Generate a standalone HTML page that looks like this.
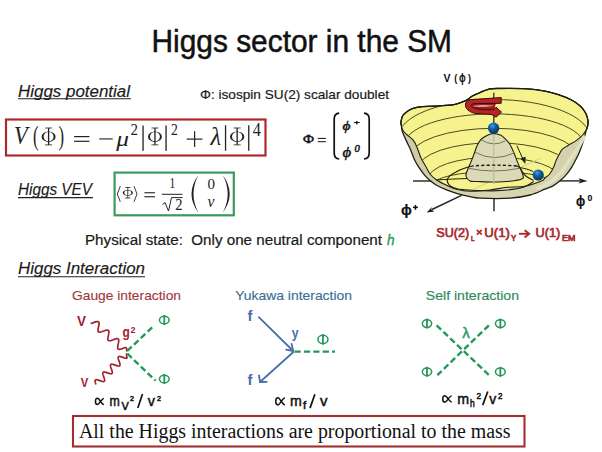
<!DOCTYPE html>
<html><head><meta charset="utf-8">
<style>
html,body{margin:0;padding:0;background:#fff;width:602px;height:452px;overflow:hidden}
svg{display:block}
</style></head><body>
<svg width="602" height="452" viewBox="0 0 602 452">
<rect width="602" height="452" fill="#fff"/>
<text x="151.5" y="52.3" font-family="Liberation Sans" font-size="31" fill="#111" stroke="#111" stroke-width="0.5" textLength="300.5" lengthAdjust="spacingAndGlyphs">Higgs sector in the SM</text>
<g font-family="Liberation Sans" font-style="italic" fill="#1a1a1a" stroke="#1a1a1a" stroke-width="0.15" font-size="16"><text x="18" y="96.5" textLength="112" lengthAdjust="spacingAndGlyphs">Higgs potential</text><text x="18" y="194.6" textLength="74" lengthAdjust="spacingAndGlyphs">Higgs VEV</text><text x="18" y="274.2" textLength="127" lengthAdjust="spacingAndGlyphs">Higgs Interaction</text></g>
<g stroke="#222" stroke-width="1.1"><line x1="18" y1="98.8" x2="131" y2="98.8"/><line x1="18" y1="197.6" x2="93" y2="197.6"/><line x1="18" y1="276.8" x2="145" y2="276.8"/></g>
<text x="200" y="99.2" font-family="Liberation Sans" font-size="13" fill="#1a1a1a" stroke="#1a1a1a" stroke-width="0.2" textLength="189" lengthAdjust="spacingAndGlyphs">Φ: isospin SU(2) scalar doublet</text>
<rect x="6" y="119.5" width="259.5" height="36" fill="none" stroke="#b0282a" stroke-width="2.2"/>
<text transform="translate(14.00 144.02) scale(0.888 1)" font-family="Liberation Serif" font-size="25.22" font-style="italic" fill="#222">V</text>
<text transform="translate(33.00 145.32) scale(0.611 1)" font-family="Liberation Serif" font-size="27.36" fill="#222">(</text>
<text transform="translate(58.60 145.32) scale(0.611 1)" font-family="Liberation Serif" font-size="27.36" fill="#222">)</text>
<text transform="translate(116.33 145.54) scale(1.222 1)" font-family="Liberation Serif" font-size="20.74" font-style="italic" fill="#222">μ</text>
<text transform="translate(130.50 135.00) scale(0.943 1)" font-family="Liberation Serif" font-size="15.91" fill="#222">2</text>
<text transform="translate(170.90 135.00) scale(0.867 1)" font-family="Liberation Serif" font-size="15.91" fill="#222">2</text>
<text x="210.51" y="145.40" font-family="Liberation Serif" font-size="24.40" font-style="italic" fill="#222">λ</text>
<text transform="translate(252.80 135.70) scale(0.910 1)" font-family="Liberation Serif" font-size="18.03" fill="#222">4</text>
<path fill="#222" fill-rule="evenodd" d="M41.60,136.65 A7.00,5.25 0 1 0 55.60,136.65 A7.00,5.25 0 1 0 41.60,136.65 Z M43.60,136.65 A5.00,4.70 0 1 0 53.60,136.65 A5.00,4.70 0 1 0 43.60,136.65 Z"/><rect x="47.94" y="127.90" width="1.33" height="17.10" fill="#222"/><rect x="45.10" y="127.60" width="7.00" height="0.8" fill="#222"/><rect x="45.10" y="144.50" width="7.00" height="0.8" fill="#222"/>
<path fill="#222" fill-rule="evenodd" d="M148.00,136.65 A6.95,5.25 0 1 0 161.90,136.65 A6.95,5.25 0 1 0 148.00,136.65 Z M150.00,136.65 A4.95,4.70 0 1 0 159.90,136.65 A4.95,4.70 0 1 0 150.00,136.65 Z"/><rect x="154.29" y="127.90" width="1.33" height="17.10" fill="#222"/><rect x="151.47" y="127.60" width="6.95" height="0.8" fill="#222"/><rect x="151.47" y="144.50" width="6.95" height="0.8" fill="#222"/>
<path fill="#222" fill-rule="evenodd" d="M230.00,136.65 A7.15,5.25 0 1 0 244.30,136.65 A7.15,5.25 0 1 0 230.00,136.65 Z M232.00,136.65 A5.15,4.70 0 1 0 242.30,136.65 A5.15,4.70 0 1 0 232.00,136.65 Z"/><rect x="236.49" y="127.90" width="1.33" height="17.10" fill="#222"/><rect x="233.57" y="127.60" width="7.15" height="0.8" fill="#222"/><rect x="233.57" y="144.50" width="7.15" height="0.8" fill="#222"/>
<path fill="#222" fill-rule="evenodd" d="M122.70,192.85 A5.10,2.85 0 1 0 132.90,192.85 A5.10,2.85 0 1 0 122.70,192.85 Z M124.30,192.85 A3.50,2.30 0 1 0 131.30,192.85 A3.50,2.30 0 1 0 124.30,192.85 Z"/><rect x="127.37" y="187.30" width="0.86" height="10.80" fill="#222"/><rect x="125.25" y="187.00" width="5.10" height="0.8" fill="#222"/><rect x="125.25" y="197.60" width="5.10" height="0.8" fill="#222"/>
<g fill="#222"><rect x="74.1" y="136" width="15.3" height="1.2"/><rect x="74.1" y="140.7" width="15.3" height="1.2"/><rect x="99.3" y="138.4" width="13.4" height="1.1"/><rect x="142.4" y="125.5" width="1.3" height="25.4"/><rect x="165.4" y="125.5" width="1.3" height="25.4"/><rect x="186.7" y="138.5" width="15.7" height="1.2"/><rect x="194" y="131.2" width="1.2" height="15.7"/><rect x="224.9" y="125.3" width="1.3" height="25.4"/><rect x="248.1" y="125.3" width="1.3" height="25.4"/></g>
<rect x="114.6" y="172.6" width="119.2" height="42.7" fill="none" stroke="#3a9a5c" stroke-width="2.2"/>
<text transform="translate(169.60 187.80) scale(0.760 1)" font-family="Liberation Serif" font-size="15.00" fill="#222">1</text>
<text transform="translate(175.30 210.40) scale(0.868 1)" font-family="Liberation Serif" font-size="16.82" fill="#222">2</text>
<text transform="translate(207.40 189.25) scale(1.023 1)" font-family="Liberation Serif" font-size="14.67" fill="#222">0</text>
<text transform="translate(207.40 207.24) scale(0.986 1)" font-family="Liberation Serif" font-size="15.96" font-style="italic" fill="#222">v</text>
<g fill="none" stroke="#222" stroke-width="0.9"><polyline points="120.3,186.2 117.3,194 120.3,201.8"/><polyline points="134,186.2 137,194 134,201.8"/><polyline points="162.5,204.5 165,202.5 168.5,211 171.5,197.6 182.6,197.6" stroke-width="1"/></g>
<g fill="#222"><rect x="144.4" y="192.2" width="10.6" height="1.1"/><rect x="144.4" y="196.2" width="10.6" height="1.1"/><rect x="161.8" y="193.8" width="20.6" height="1"/></g>
<g fill="none" stroke="#222" stroke-width="1.3"></g>
<g fill="#222"><path d="M198.4,175 Q184.6,193.9 198.4,212.8 Q188.6,193.9 198.4,175 Z"/><path d="M222.8,175 Q236.6,193.9 222.8,212.8 Q232.6,193.9 222.8,175 Z"/></g>
<text transform="translate(303.00 143.20) scale(1.148 1)" font-family="Liberation Serif" font-size="13.13" stroke="#111" stroke-width="0.45" fill="#111">Φ</text>
<text transform="translate(342.50 129.76) scale(1.167 1)" font-family="Liberation Serif" font-size="13.19" font-style="italic" stroke="#111" stroke-width="0.45" fill="#111">ϕ</text>
<text transform="translate(353.80 124.60) scale(1.500 1)" font-family="Liberation Serif" font-size="7.08" stroke="#111" stroke-width="0.45" fill="#111">+</text>
<text transform="translate(342.50 157.19) scale(1.087 1)" font-family="Liberation Serif" font-size="15.38" font-style="italic" stroke="#111" stroke-width="0.45" fill="#111">ϕ</text>
<text transform="translate(354.50 152.40) scale(1.084 1)" font-family="Liberation Serif" font-size="9.78" font-style="italic" stroke="#111" stroke-width="0.45" fill="#111">0</text>
<g fill="#111"><rect x="317.7" y="137.9" width="8.2" height="1"/><rect x="317.7" y="141.2" width="8.2" height="1"/></g>
<g fill="none" stroke="#111" stroke-width="1.7"><path d="M339.2,113.2 Q334.2,113.6 334.2,119 L334.2,153 Q334.2,158.6 339.2,159"/><path d="M364,113.2 Q369.2,113.6 369.2,119 L369.2,153 Q369.2,158.6 364,159"/></g>
<text x="85" y="245" font-family="Liberation Sans" font-size="14" fill="#1a1a1a" stroke="#1a1a1a" stroke-width="0.2" textLength="297" lengthAdjust="spacingAndGlyphs" xml:space="preserve">Physical state:  Only one neutral component</text>
<text transform="translate(387.00 245.00) scale(0.933 1)" font-family="Liberation Sans" font-size="14.48" font-style="italic" stroke="#2a9a5a" stroke-width="0.4" fill="#2a9a5a">h</text>
<text x="72" y="300.3" font-family="Liberation Sans" font-size="13.5" fill="#a03a40" stroke="#a03a40" stroke-width="0.15" textLength="109" lengthAdjust="spacingAndGlyphs">Gauge interaction</text>
<text x="235.3" y="300" font-family="Liberation Sans" font-size="13.5" fill="#3c6e98" stroke="#3c6e98" stroke-width="0.15" textLength="116.7" lengthAdjust="spacingAndGlyphs">Yukawa interaction</text>
<text x="425.8" y="300.2" font-family="Liberation Sans" font-size="13.5" fill="#2e8a5c" stroke="#2e8a5c" stroke-width="0.15" textLength="93.2" lengthAdjust="spacingAndGlyphs">Self interaction</text>
<rect x="73" y="416" width="451.5" height="30.5" fill="none" stroke="#a03030" stroke-width="2.1"/>
<text x="79" y="438.3" font-family="Liberation Serif" font-size="20" fill="#111" textLength="431.5" lengthAdjust="spacingAndGlyphs">All the Higgs interactions are proportional to the mass</text>
<path d="M90.63,323.53 L91.27,323.37 L91.96,323.16 L92.68,322.92 L93.42,322.65 L94.16,322.38 L94.89,322.12 L95.60,321.88 L96.27,321.70 L96.88,321.57 L97.43,321.52 L97.91,321.55 L98.31,321.67 L98.62,321.89 L98.86,322.20 L99.01,322.60 L99.08,323.10 L99.09,323.67 L99.03,324.32 L98.92,325.02 L98.78,325.76 L98.62,326.53 L98.45,327.30 L98.28,328.06 L98.15,328.80 L98.05,329.49 L98.00,330.13 L98.01,330.69 L98.09,331.17 L98.26,331.57 L98.50,331.86 L98.83,332.07 L99.24,332.17 L99.73,332.19 L100.29,332.13 L100.91,331.99 L101.59,331.80 L102.30,331.56 L103.03,331.30 L103.78,331.03 L104.51,330.76 L105.23,330.52 L105.91,330.32 L106.54,330.17 L107.11,330.10 L107.61,330.10 L108.03,330.20 L108.37,330.39 L108.63,330.67 L108.80,331.05 L108.90,331.52 L108.92,332.07 L108.88,332.70 L108.79,333.38 L108.65,334.12 L108.49,334.88 L108.32,335.65 L108.16,336.42 L108.01,337.16 L107.90,337.87 L107.83,338.53 L107.83,339.11 L107.89,339.62 L108.03,340.03 L108.25,340.36 L108.56,340.59 L108.94,340.72 L109.41,340.77 L109.95,340.73 L110.56,340.61 L111.22,340.43 L111.92,340.21 L112.65,339.95 L113.39,339.68 L114.13,339.40 L114.86,339.15 L115.55,338.94 L116.19,338.78 L116.78,338.68 L117.30,338.67 L117.75,338.73 L118.11,338.89 L118.39,339.15 L118.59,339.50 L118.71,339.95 L118.75,340.48 L118.72,341.08 L118.64,341.75 L118.52,342.47 L118.37,343.23 L118.20,344.00 L118.03,344.77 L117.88,345.53 L117.76,346.25 L117.68,346.92 L117.65,347.52 L117.69,348.05 L117.81,348.50 L118.01,348.85 L118.29,349.11 L118.65,349.27 L119.10,349.33 L119.62,349.32 L120.21,349.22 L120.85,349.06 L121.54,348.85 L122.27,348.60 L123.01,348.32 L123.75,348.05 L124.48,347.79 L125.18,347.57 L125.74,347.51 L126.12,347.65 L126.39,347.91 L126.56,348.30 L126.66,348.77 L126.69,349.31 L126.70,349.88 L126.70,350.45 L126.73,351.00 L126.80,351.50" fill="none" stroke="#a02430" stroke-width="1.7"/>
<path d="M96.00,384.50 L95.73,383.71 L95.47,382.95 L95.27,382.23 L95.13,381.58 L95.07,381.01 L95.11,380.54 L95.26,380.17 L95.51,379.91 L95.88,379.76 L96.36,379.72 L96.93,379.77 L97.58,379.91 L98.30,380.11 L99.06,380.36 L99.85,380.62 L100.64,380.89 L101.40,381.14 L102.12,381.34 L102.77,381.48 L103.34,381.53 L103.82,381.49 L104.19,381.34 L104.44,381.08 L104.59,380.71 L104.63,380.24 L104.57,379.67 L104.43,379.02 L104.23,378.30 L103.97,377.54 L103.70,376.75 L103.43,375.96 L103.17,375.20 L102.97,374.48 L102.83,373.83 L102.77,373.26 L102.81,372.79 L102.96,372.42 L103.21,372.16 L103.58,372.01 L104.06,371.97 L104.63,372.02 L105.28,372.16 L106.00,372.36 L106.76,372.61 L107.55,372.88 L108.34,373.14 L109.10,373.39 L109.82,373.59 L110.47,373.73 L111.04,373.78 L111.52,373.74 L111.89,373.59 L112.14,373.33 L112.29,372.96 L112.33,372.49 L112.27,371.92 L112.13,371.27 L111.93,370.55 L111.67,369.79 L111.40,369.00 L111.13,368.21 L110.87,367.45 L110.67,366.73 L110.53,366.08 L110.47,365.51 L110.51,365.04 L110.66,364.67 L110.91,364.41 L111.28,364.26 L111.76,364.22 L112.33,364.27 L112.98,364.41 L113.70,364.61 L114.46,364.86 L115.25,365.12 L116.04,365.39 L116.80,365.64 L117.52,365.84 L118.17,365.98 L118.74,366.03 L119.22,365.99 L119.59,365.84 L119.84,365.58 L119.99,365.21 L120.03,364.74 L119.97,364.17 L119.83,363.52 L119.63,362.80 L119.37,362.04 L119.10,361.25 L118.83,360.46 L118.57,359.70 L118.37,358.98 L118.23,358.33 L118.17,357.76 L118.21,357.29 L118.36,356.92 L118.61,356.66 L118.98,356.51 L119.46,356.47 L120.03,356.52 L120.68,356.66 L121.40,356.86 L122.16,357.11 L122.95,357.38 L123.74,357.64 L124.50,357.89 L125.22,358.09 L125.87,358.23 L126.44,358.28 L126.77,358.09 L126.86,357.67 L126.86,357.15 L126.78,356.56 L126.67,355.94 L126.56,355.32 L126.50,354.74 L126.50,354.23 L126.60,353.81 L126.80,353.50" fill="none" stroke="#a02430" stroke-width="1.7"/>
<g stroke="#22985a" stroke-width="2.4" stroke-dasharray="6.2 3.2" fill="none"><line x1="127.2" y1="351" x2="154" y2="325.6"/><line x1="127.3" y1="353.5" x2="155.6" y2="380.7"/></g>
<text transform="translate(77.00 326.20) scale(0.934 1)" font-family="Liberation Sans" font-size="14.49" font-weight="bold" fill="#a02430">V</text>
<text transform="translate(80.80 386.50) scale(0.855 1)" font-family="Liberation Sans" font-size="13.19" font-weight="bold" fill="#a02430">V</text>
<text transform="translate(122.60 337.42) scale(0.871 1)" font-family="Liberation Sans" font-size="13.73" font-weight="bold" fill="#a02430">g</text>
<text transform="translate(130.60 332.60) scale(0.956 1)" font-family="Liberation Sans" font-size="9.43" font-weight="bold" fill="#a02430">2</text>
<g stroke="#4a6eaa" stroke-width="1.8" fill="none" stroke-linecap="round" stroke-linejoin="round"><line x1="258.8" y1="317.2" x2="293.2" y2="351"/><polyline points="286.2,349.6 293.2,351 291.6,344"/><line x1="293.4" y1="352" x2="260" y2="382"/><polyline points="259,375.5 260,382 266.8,381.8"/></g>
<line x1="294.5" y1="351.6" x2="335" y2="351.6" stroke="#22985a" stroke-width="2.4" stroke-dasharray="6.2 3.2"/>
<text transform="translate(247.50 321.00) scale(1.040 1)" font-family="Liberation Sans" font-size="14.34" font-weight="bold" fill="#4a6eaa">f</text>
<text transform="translate(247.50 384.90) scale(1.040 1)" font-family="Liberation Sans" font-size="14.34" font-weight="bold" fill="#4a6eaa">f</text>
<text transform="translate(291.70 337.61) scale(0.832 1)" font-family="Liberation Sans" font-size="14.73" font-weight="bold" fill="#4a6eaa">y</text>
<g stroke="#22985a" stroke-width="2.4" stroke-dasharray="6.2 3.2" fill="none"><line x1="436.6" y1="325.3" x2="488.9" y2="375.1"/><line x1="488.9" y1="325.3" x2="437.4" y2="375.1"/></g>
<text transform="translate(462.30 337.70) scale(0.980 1)" font-family="Liberation Sans" font-size="15.31" stroke="#22985a" stroke-width="0.4" fill="#22985a">λ</text>
<ellipse cx="164.30" cy="320.00" rx="4.85" ry="3.85" fill="none" stroke="#22985a" stroke-width="1.5"/><line x1="164.30" y1="315.00" x2="164.30" y2="325.00" stroke="#22985a" stroke-width="1.8"/>
<ellipse cx="164.30" cy="379.00" rx="4.85" ry="3.85" fill="none" stroke="#22985a" stroke-width="1.5"/><line x1="164.30" y1="374.00" x2="164.30" y2="384.00" stroke="#22985a" stroke-width="1.8"/>
<ellipse cx="322.95" cy="339.45" rx="5.00" ry="4.10" fill="none" stroke="#22985a" stroke-width="1.5"/><line x1="322.95" y1="334.20" x2="322.95" y2="344.70" stroke="#22985a" stroke-width="1.8"/>
<ellipse cx="427.00" cy="323.60" rx="4.65" ry="3.85" fill="none" stroke="#22985a" stroke-width="1.5"/><line x1="427.00" y1="318.60" x2="427.00" y2="328.60" stroke="#22985a" stroke-width="1.8"/>
<ellipse cx="500.35" cy="323.60" rx="4.90" ry="3.85" fill="none" stroke="#22985a" stroke-width="1.5"/><line x1="500.35" y1="318.60" x2="500.35" y2="328.60" stroke="#22985a" stroke-width="1.8"/>
<ellipse cx="427.00" cy="371.80" rx="4.65" ry="3.85" fill="none" stroke="#22985a" stroke-width="1.5"/><line x1="427.00" y1="366.80" x2="427.00" y2="376.80" stroke="#22985a" stroke-width="1.8"/>
<ellipse cx="500.35" cy="371.80" rx="4.90" ry="3.85" fill="none" stroke="#22985a" stroke-width="1.5"/><line x1="500.35" y1="366.80" x2="500.35" y2="376.80" stroke="#22985a" stroke-width="1.8"/>
<path d="M103.85,398.47 C102.59,398.35 101.50,400.21 100.49,401.45 C99.48,402.81 98.64,404.55 97.47,404.55 C96.12,404.55 95.45,403.19 95.45,401.45 C95.45,399.71 96.12,398.35 97.47,398.35 C98.64,398.35 99.48,400.09 100.49,401.45 C101.50,402.69 102.59,404.55 103.85,404.43" fill="none" stroke="#111" stroke-width="1.5"/>
<path d="M284.95,397.89 C283.57,397.75 282.37,399.91 281.27,401.35 C280.17,402.93 279.25,404.95 277.96,404.95 C276.49,404.95 275.75,403.37 275.75,401.35 C275.75,399.33 276.49,397.75 277.96,397.75 C279.25,397.75 280.17,399.77 281.27,401.35 C282.37,402.79 283.57,404.95 284.95,404.81" fill="none" stroke="#111" stroke-width="1.5"/>
<path d="M451.75,395.88 C450.40,395.75 449.23,397.64 448.15,398.90 C447.07,400.29 446.17,402.05 444.91,402.05 C443.47,402.05 442.75,400.66 442.75,398.90 C442.75,397.14 443.47,395.75 444.91,395.75 C446.17,395.75 447.07,397.51 448.15,398.90 C449.23,400.16 450.40,402.05 451.75,401.92" fill="none" stroke="#111" stroke-width="1.5"/>
<text transform="translate(109.60 405.60) scale(0.876 1)" font-family="Liberation Sans" font-size="14.07" stroke="#111" stroke-width="0.5" fill="#111">m</text>
<text transform="translate(121.60 409.60) scale(1.082 1)" font-family="Liberation Sans" font-size="10.14" stroke="#111" stroke-width="0.5" fill="#111">V</text>
<text transform="translate(130.00 400.60) scale(0.901 1)" font-family="Liberation Sans" font-size="8.00" stroke="#111" stroke-width="0.5" fill="#111">2</text>
<text x="147.80" y="405.60" font-family="Liberation Sans" font-size="14.34" stroke="#111" stroke-width="0.5" fill="#111">v</text>
<text transform="translate(156.90 400.60) scale(0.901 1)" font-family="Liberation Sans" font-size="8.00" stroke="#111" stroke-width="0.5" fill="#111">2</text>
<text transform="translate(289.90 405.70) scale(0.931 1)" font-family="Liberation Sans" font-size="15.19" stroke="#111" stroke-width="0.5" fill="#111">m</text>
<text transform="translate(303.00 409.40) scale(1.076 1)" font-family="Liberation Sans" font-size="10.62" stroke="#111" stroke-width="0.5" fill="#111">f</text>
<text transform="translate(319.90 405.70) scale(1.032 1)" font-family="Liberation Sans" font-size="14.53" stroke="#111" stroke-width="0.5" fill="#111">v</text>
<text transform="translate(457.20 403.70) scale(0.950 1)" font-family="Liberation Sans" font-size="15.00" stroke="#111" stroke-width="0.5" fill="#111">m</text>
<text transform="translate(470.00 407.20) scale(0.841 1)" font-family="Liberation Sans" font-size="10.07" stroke="#111" stroke-width="0.5" fill="#111">h</text>
<text transform="translate(476.40 398.50) scale(0.893 1)" font-family="Liberation Sans" font-size="9.29" stroke="#111" stroke-width="0.5" fill="#111">2</text>
<text transform="translate(489.20 403.70) scale(0.916 1)" font-family="Liberation Sans" font-size="15.28" stroke="#111" stroke-width="0.5" fill="#111">v</text>
<text transform="translate(497.90 398.50) scale(0.957 1)" font-family="Liberation Sans" font-size="8.29" stroke="#111" stroke-width="0.5" fill="#111">2</text>
<line x1="137.80" y1="408.00" x2="142.50" y2="394.00" stroke="#111" stroke-width="1.7"/>
<line x1="310.00" y1="408.10" x2="314.90" y2="394.30" stroke="#111" stroke-width="1.7"/>
<line x1="482.70" y1="405.10" x2="487.80" y2="391.50" stroke="#111" stroke-width="1.7"/>
<defs><clipPath id="yc"><path d="M401.30,125.00 C400.92,123.48 400.78,123.40 401.00,121.90 C401.22,120.40 401.67,117.65 402.60,116.00 C403.53,114.35 404.93,113.23 406.60,112.00 C408.27,110.77 409.93,109.50 412.60,108.60 C415.27,107.70 418.87,107.00 422.60,106.60 C426.33,106.20 429.98,106.48 435.00,106.20 C440.02,105.92 448.28,105.55 452.70,104.90 C457.12,104.25 459.13,103.12 461.50,102.30 C463.87,101.48 465.15,101.00 466.90,100.00 C468.65,99.00 470.15,97.38 472.00,96.30 C473.85,95.22 475.17,94.68 478.00,93.50 C480.83,92.32 485.27,90.03 489.00,89.20 C492.73,88.37 494.23,88.57 500.40,88.50 C506.57,88.43 518.57,88.35 526.00,88.80 C533.43,89.25 539.62,90.22 545.00,91.20 C550.38,92.18 553.88,93.23 558.30,94.70 C562.72,96.17 567.82,98.08 571.50,100.00 C575.18,101.92 578.03,103.98 580.40,106.20 C582.77,108.42 584.45,110.93 585.70,113.30 C586.95,115.67 587.58,118.28 587.90,120.40 C588.22,122.52 587.87,124.45 587.60,126.00 C587.33,127.55 587.12,128.20 586.30,129.70 C585.48,131.20 584.33,133.22 582.70,135.00 C581.07,136.78 579.00,138.62 576.50,140.40 C574.00,142.18 570.05,144.23 567.70,145.70 C565.35,147.17 563.73,147.88 562.40,149.20 C561.07,150.52 560.72,151.80 559.70,153.60 C558.68,155.40 557.32,157.72 556.30,160.00 C555.28,162.28 554.70,164.97 553.60,167.30 C552.50,169.63 551.13,172.23 549.70,174.00 C548.27,175.77 546.37,176.73 545.00,177.90 C543.63,179.07 544.85,179.60 541.50,181.00 C538.15,182.40 530.65,185.25 524.90,186.30 C519.15,187.35 512.82,186.68 507.00,187.30 C501.18,187.92 496.17,189.33 490.00,190.00 C483.83,190.67 475.57,191.42 470.00,191.30 C464.43,191.18 460.50,190.30 456.60,189.30 C452.70,188.30 449.93,186.85 446.60,185.30 C443.27,183.75 439.37,181.88 436.60,180.00 C433.83,178.12 431.78,176.23 430.00,174.00 C428.22,171.77 427.35,169.17 425.90,166.60 C424.45,164.03 422.62,161.37 421.30,158.60 C419.98,155.83 418.90,152.28 418.00,150.00 C417.10,147.72 416.68,146.52 415.90,144.90 C415.12,143.28 414.73,141.95 413.30,140.30 C411.87,138.65 408.97,136.55 407.30,135.00 C405.63,133.45 404.30,132.67 403.30,131.00 C402.30,129.33 401.68,126.52 401.30,125.00 Z"/></clipPath><radialGradient id="ball" cx="0.4" cy="0.3" r="0.75"><stop offset="0" stop-color="#4aa0e0"/><stop offset="0.35" stop-color="#1464aa"/><stop offset="1" stop-color="#052a50"/></radialGradient><linearGradient id="shellg" x1="0" y1="0" x2="1" y2="0"><stop offset="0" stop-color="#cdcba2"/><stop offset="0.5" stop-color="#d9d7b3"/><stop offset="1" stop-color="#d2d0a8"/></linearGradient></defs>
<g stroke="#222" stroke-width="1.4" fill="none"><line x1="413" y1="181" x2="431" y2="181"/><line x1="558" y1="180.9" x2="580" y2="180.9"/><line x1="494" y1="197" x2="494" y2="211.3" stroke="#3a3a3a" stroke-width="1.6"/><line x1="461.5" y1="195.4" x2="432" y2="209.5"/></g>
<polygon points="587.5,180.9 578.5,178.3 580.5,180.9 578.5,183.5" fill="#1a1a1a"/>
<polygon points="426.6,212.4 432,206.9 431.2,209.4 434.3,211.6" fill="#1a1a1a"/>
<path d="M401.30,125.00 C401.13,123.60 400.78,123.40 401.00,121.90 C401.22,120.40 401.67,117.65 402.60,116.00 C403.53,114.35 404.93,113.23 406.60,112.00 C408.27,110.77 409.93,109.50 412.60,108.60 C415.27,107.70 418.87,107.00 422.60,106.60 C426.33,106.20 429.98,106.48 435.00,106.20 C440.02,105.92 448.28,105.55 452.70,104.90 C457.12,104.25 459.13,103.12 461.50,102.30 C463.87,101.48 465.15,101.00 466.90,100.00 C468.65,99.00 470.15,97.38 472.00,96.30 C473.85,95.22 475.17,94.68 478.00,93.50 C480.83,92.32 485.27,90.03 489.00,89.20 C492.73,88.37 494.23,88.57 500.40,88.50 C506.57,88.43 518.57,88.35 526.00,88.80 C533.43,89.25 539.62,90.22 545.00,91.20 C550.38,92.18 553.88,93.23 558.30,94.70 C562.72,96.17 567.82,98.08 571.50,100.00 C575.18,101.92 578.03,103.98 580.40,106.20 C582.77,108.42 584.45,110.93 585.70,113.30 C586.95,115.67 587.58,118.28 587.90,120.40 C588.22,122.52 587.87,124.45 587.60,126.00 C587.33,127.55 586.67,128.48 586.30,129.70 C585.93,130.92 586.00,131.08 585.40,133.30 C584.80,135.52 583.73,139.77 582.70,143.00 C581.67,146.23 580.38,149.87 579.20,152.70 C578.02,155.53 576.87,157.57 575.60,160.00 C574.33,162.43 573.15,164.87 571.60,167.30 C570.05,169.73 568.18,172.38 566.30,174.60 C564.42,176.82 562.52,178.72 560.30,180.60 C558.08,182.48 555.55,184.47 553.00,185.90 C550.45,187.33 548.80,187.68 545.00,189.20 C541.20,190.72 536.03,193.50 530.20,195.00 C524.37,196.50 518.37,197.67 510.00,198.20 C501.63,198.73 486.68,198.47 480.00,198.20 C473.32,197.93 473.80,197.42 469.90,196.60 C466.00,195.78 460.48,194.42 456.60,193.30 C452.72,192.18 449.93,191.23 446.60,189.90 C443.27,188.57 439.37,186.85 436.60,185.30 C433.83,183.75 432.00,182.28 430.00,180.60 C428.00,178.92 426.38,177.32 424.60,175.20 C422.82,173.08 420.97,170.43 419.30,167.90 C417.63,165.37 416.03,162.98 414.60,160.00 C413.17,157.02 411.80,152.62 410.70,150.00 C409.60,147.38 409.02,146.47 408.00,144.30 C406.98,142.13 405.60,139.33 404.60,137.00 C403.60,134.67 402.55,132.30 402.00,130.30 C401.45,128.30 401.47,126.40 401.30,125.00 Z" fill="url(#shellg)" stroke="#1e1e14" stroke-width="1.3"/>
<path d="M584.00,137.00 C582.92,139.00 579.92,145.17 577.50,149.00 C575.08,152.83 572.17,156.17 569.50,160.00 C566.83,163.83 564.75,168.25 561.50,172.00 C558.25,175.75 553.92,179.83 550.00,182.50 C546.08,185.17 540.00,187.08 538.00,188.00" fill="none" stroke="#e2e0c4" stroke-width="3.5" stroke-linecap="round"/>
<path d="M401.30,125.00 C400.92,123.48 400.78,123.40 401.00,121.90 C401.22,120.40 401.67,117.65 402.60,116.00 C403.53,114.35 404.93,113.23 406.60,112.00 C408.27,110.77 409.93,109.50 412.60,108.60 C415.27,107.70 418.87,107.00 422.60,106.60 C426.33,106.20 429.98,106.48 435.00,106.20 C440.02,105.92 448.28,105.55 452.70,104.90 C457.12,104.25 459.13,103.12 461.50,102.30 C463.87,101.48 465.15,101.00 466.90,100.00 C468.65,99.00 470.15,97.38 472.00,96.30 C473.85,95.22 475.17,94.68 478.00,93.50 C480.83,92.32 485.27,90.03 489.00,89.20 C492.73,88.37 494.23,88.57 500.40,88.50 C506.57,88.43 518.57,88.35 526.00,88.80 C533.43,89.25 539.62,90.22 545.00,91.20 C550.38,92.18 553.88,93.23 558.30,94.70 C562.72,96.17 567.82,98.08 571.50,100.00 C575.18,101.92 578.03,103.98 580.40,106.20 C582.77,108.42 584.45,110.93 585.70,113.30 C586.95,115.67 587.58,118.28 587.90,120.40 C588.22,122.52 587.87,124.45 587.60,126.00 C587.33,127.55 587.12,128.20 586.30,129.70 C585.48,131.20 584.33,133.22 582.70,135.00 C581.07,136.78 579.00,138.62 576.50,140.40 C574.00,142.18 570.05,144.23 567.70,145.70 C565.35,147.17 563.73,147.88 562.40,149.20 C561.07,150.52 560.72,151.80 559.70,153.60 C558.68,155.40 557.32,157.72 556.30,160.00 C555.28,162.28 554.70,164.97 553.60,167.30 C552.50,169.63 551.13,172.23 549.70,174.00 C548.27,175.77 546.37,176.73 545.00,177.90 C543.63,179.07 544.85,179.60 541.50,181.00 C538.15,182.40 530.65,185.25 524.90,186.30 C519.15,187.35 512.82,186.68 507.00,187.30 C501.18,187.92 496.17,189.33 490.00,190.00 C483.83,190.67 475.57,191.42 470.00,191.30 C464.43,191.18 460.50,190.30 456.60,189.30 C452.70,188.30 449.93,186.85 446.60,185.30 C443.27,183.75 439.37,181.88 436.60,180.00 C433.83,178.12 431.78,176.23 430.00,174.00 C428.22,171.77 427.35,169.17 425.90,166.60 C424.45,164.03 422.62,161.37 421.30,158.60 C419.98,155.83 418.90,152.28 418.00,150.00 C417.10,147.72 416.68,146.52 415.90,144.90 C415.12,143.28 414.73,141.95 413.30,140.30 C411.87,138.65 408.97,136.55 407.30,135.00 C405.63,133.45 404.30,132.67 403.30,131.00 C402.30,129.33 401.68,126.52 401.30,125.00 Z" fill="#f6f28e" stroke="#1e1e14" stroke-width="1.1"/>
<g clip-path="url(#yc)" fill="none" stroke="#4a4a1e" stroke-width="1">
<path d="M398.00,137.50 A96,38 0 0 1 590.00,137.50"/>
<path d="M404.00,145.40 A90,31.5 0 0 1 584.00,145.40"/>
<path d="M410.00,157.30 A84,29 0 0 1 578.00,157.30"/>
<path d="M418.00,168.70 A76,26 0 0 1 570.00,168.70"/>
<path d="M428.00,179.10 A66,22 0 0 1 560.00,179.10"/>
<path d="M432.00,185.50 A62,14 0 0 1 556.00,185.50"/>
</g>
<path d="M401.30,125.00 C401.25,124.48 400.78,123.40 401.00,121.90 C401.22,120.40 401.67,117.65 402.60,116.00 C403.53,114.35 404.93,113.23 406.60,112.00 C408.27,110.77 409.93,109.50 412.60,108.60 C415.27,107.70 418.87,107.00 422.60,106.60 C426.33,106.20 429.98,106.48 435.00,106.20 C440.02,105.92 448.28,105.55 452.70,104.90 C457.12,104.25 459.13,103.12 461.50,102.30 C463.87,101.48 465.15,101.00 466.90,100.00 C468.65,99.00 470.15,97.38 472.00,96.30 C473.85,95.22 475.17,94.68 478.00,93.50 C480.83,92.32 485.27,90.03 489.00,89.20 C492.73,88.37 494.23,88.57 500.40,88.50 C506.57,88.43 518.57,88.35 526.00,88.80 C533.43,89.25 539.62,90.22 545.00,91.20 C550.38,92.18 553.88,93.23 558.30,94.70 C562.72,96.17 567.82,98.08 571.50,100.00 C575.18,101.92 578.03,103.98 580.40,106.20 C582.77,108.42 584.45,110.93 585.70,113.30 C586.95,115.67 587.58,118.28 587.90,120.40 C588.22,122.52 587.87,124.45 587.60,126.00 C587.33,127.55 586.52,129.08 586.30,129.70" fill="none" stroke="#1e1e14" stroke-width="1.3"/>
<line x1="474" y1="189" x2="541" y2="158" stroke="#cfcf9c" stroke-width="1"/>
<path d="M470.00,181.00 C468.00,180.08 466.42,177.83 466.00,176.00 C465.58,174.17 466.70,172.27 467.50,170.00 C468.30,167.73 469.65,165.23 470.80,162.40 C471.95,159.57 473.30,155.90 474.40,153.00 C475.50,150.10 476.22,147.33 477.40,145.00 C478.58,142.67 479.73,140.65 481.50,139.00 C483.27,137.35 486.03,135.97 488.00,135.10 C489.97,134.23 491.23,133.80 493.30,133.80 C495.37,133.80 498.45,134.30 500.40,135.10 C502.35,135.90 503.45,137.12 505.00,138.60 C506.55,140.08 508.20,141.60 509.70,144.00 C511.20,146.40 512.68,149.93 514.00,153.00 C515.32,156.07 516.52,159.73 517.60,162.40 C518.68,165.07 519.62,166.90 520.50,169.00 C521.38,171.10 522.60,173.37 522.90,175.00 C523.20,176.63 524.47,177.75 522.30,178.80 C520.13,179.85 514.73,180.77 509.90,181.30 C505.07,181.83 498.62,181.97 493.30,182.00 C487.98,182.03 481.88,181.67 478.00,181.50 C474.12,181.33 472.00,181.92 470.00,181.00 Z" fill="#dcdab6" stroke="#1e1e14" stroke-width="1.1"/>
<g fill="none" stroke="#6a6a48" stroke-width="0.9"><path d="M481.6,140.1 Q493.8,147.3 505.4,140.8"/><path d="M475.1,152.3 Q493.8,162.5 514,153"/><path d="M468,168.2 Q493.8,173.8 519.7,168.2"/></g>
<line x1="493.8" y1="134.5" x2="493.8" y2="184" stroke="#bbb99e" stroke-width="1.2"/>
<path d="M533.6,180.3 C529,178.5 524.5,176 522.5,172 C521,169 519.5,166.8 516.9,166" fill="none" stroke="#1e1e14" stroke-width="1.2"/>
<path d="M520.3,167.7 C525,168.5 529,169.5 533,171.5" fill="none" stroke="#1e1e14" stroke-width="1"/>
<path d="M516.9,166 Q493.8,164.3 472.3,166" fill="none" stroke="#1e1e14" stroke-width="1.4" stroke-dasharray="3.2 2.2"/>
<path d="M472.3,166 C466,167.5 461,169 456,172 C450,175 446.5,178 447.3,181.3 C448,185 451,187.5 458,189 C466,190.2 480,190.8 492,190.8 C505,190.6 516,189.5 524,187 C528,185.5 531,183.5 533.6,181.5" fill="none" stroke="#1e1e14" stroke-width="1.2"/>
<path d="M436.6,180 C446,179.3 457,178.8 467.2,178.6" fill="none" stroke="#1e1e14" stroke-width="1"/>
<line x1="516.9" y1="145.8" x2="523.3" y2="159.8" stroke="#1e1e14" stroke-width="1"/>
<polygon points="525.3,164 520.6,158.2 525.6,156.7" fill="#1e1e14"/>
<line x1="493.8" y1="92.7" x2="493.8" y2="123" stroke="#3d3d22" stroke-width="1.4"/>
<circle cx="493.6" cy="128.2" r="5.7" fill="url(#ball)"/>
<circle cx="538.2" cy="175" r="5.6" fill="url(#ball)"/>
<path d="M475,103.4 L496,103.3 L494,109.8 L482.9,109.8 C471,108.9 467.5,104.3 475,103.4 Z" fill="#9a1c1c"/>
<path d="M472.5,106.3 C478,105 488,105.2 494,105.8 C488,106.8 478,107.1 472.5,106.3 Z" fill="#f0c8bc"/>
<path d="M501.2,97.6 L470.5,99.6 C463.5,100.5 462.8,110.5 474.6,113.3 L492,114.6 L496,117.2 L501.5,112.1 L496,107.2 L493.7,109.7 L482.9,109.7 C471,108.8 467.5,104.3 475,103.5 L501.2,103.3 Z" fill="#b82424" stroke="#3a0808" stroke-width="1" stroke-linejoin="round"/>
<text transform="translate(443.60 82.00) scale(0.943 1)" font-family="Liberation Sans" font-size="11.16" font-weight="bold" fill="#111">V</text>
<text transform="translate(454.30 81.83) scale(0.761 1)" font-family="Liberation Sans" font-size="11.76" font-weight="bold" fill="#111">(</text>
<text transform="translate(458.90 82.06) scale(0.739 1)" font-family="Liberation Sans" font-size="12.09" font-weight="bold" fill="#111">ϕ</text>
<text transform="translate(467.90 81.83) scale(0.761 1)" font-family="Liberation Sans" font-size="11.76" font-weight="bold" fill="#111">)</text>
<text transform="translate(401.10 214.88) scale(0.969 1)" font-family="Liberation Sans" font-size="14.87" font-weight="bold" stroke="#111" stroke-width="0.15" fill="#111">ϕ</text>
<text transform="translate(576.10 206.29) scale(0.802 1)" font-family="Liberation Sans" font-size="15.29" font-weight="bold" stroke="#111" stroke-width="0.15" fill="#111">ϕ</text>
<text transform="translate(587.40 201.21) scale(0.975 1)" font-family="Liberation Sans" font-size="8.87" font-weight="bold" stroke="#111" stroke-width="0.15" fill="#111">0</text>
<g stroke="#111" stroke-width="1.5"><line x1="413" y1="207.35" x2="417.9" y2="207.35"/><line x1="415.45" y1="204.9" x2="415.45" y2="209.8"/></g>
<text transform="translate(436.30 237.28) scale(0.974 1)" font-family="Liberation Sans" font-size="12.94" stroke="#a82a2c" stroke-width="0.7" fill="#a82a2c">SU(2)</text>
<text transform="translate(471.00 240.60) scale(0.845 1)" font-family="Liberation Sans" font-size="7.25" stroke="#a82a2c" stroke-width="0.7" fill="#a82a2c">L</text>
<text transform="translate(484.30 237.28) scale(1.017 1)" font-family="Liberation Sans" font-size="12.94" stroke="#a82a2c" stroke-width="0.7" fill="#a82a2c">U(1)</text>
<text transform="translate(511.00 240.60) scale(0.930 1)" font-family="Liberation Sans" font-size="8.41" stroke="#a82a2c" stroke-width="0.7" fill="#a82a2c">Y</text>
<text transform="translate(535.40 237.39) scale(0.958 1)" font-family="Liberation Sans" font-size="13.37" stroke="#a82a2c" stroke-width="0.7" fill="#a82a2c">U(1)</text>
<text transform="translate(562.00 240.80) scale(1.055 1)" font-family="Liberation Sans" font-size="8.41" stroke="#a82a2c" stroke-width="0.7" fill="#a82a2c">EM</text>
<g fill="none" stroke="#a82a2c" stroke-width="1.9"><line x1="518.9" y1="233.8" x2="528.5" y2="233.8"/><polyline points="524.6,230.2 529.2,233.8 524.6,237.4"/><line x1="476.8" y1="229.8" x2="481.8" y2="234.6" stroke-width="1.6"/><line x1="481.8" y1="229.8" x2="476.8" y2="234.6" stroke-width="1.6"/></g>
</svg>
</body></html>
